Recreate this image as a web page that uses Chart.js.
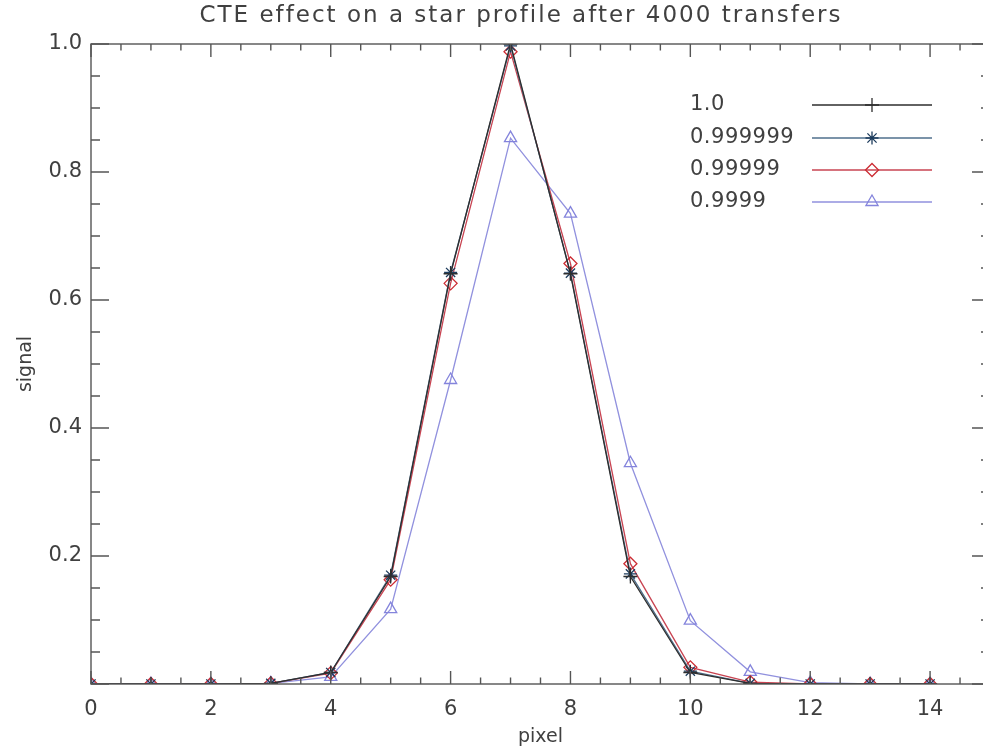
<!DOCTYPE html>
<html>
<head>
<meta charset="utf-8">
<script src="https://cdn.jsdelivr.net/npm/chart.js@4.4.1/dist/chart.umd.min.js"></script>
<style>
  html, body { margin: 0; padding: 0; background: #fff; overflow: hidden; }
  #wrap { width: 1003px; height: 748px; }
</style>
</head>
<body>
<div id="wrap"><canvas id="cteChart"></canvas></div>
<script>
// pixel positions across the star profile
const pixels = [0, 1, 2, 3, 4, 5, 6, 7, 8, 9, 10, 11, 12, 13, 14];

// signal after 4000 transfers, one array per CTE value
const cte1 = [0, 0, 0, 0.001, 0.018, 0.168, 0.641, 1.0, 0.641, 0.168, 0.018, 0.001, 0, 0, 0];
const cte999999 = [0, 0, 0, 0.001, 0.018, 0.170, 0.643, 0.997, 0.642, 0.172, 0.020, 0.001, 0, 0, 0];
const cte99999 = [0, 0, 0, 0.001, 0.017, 0.163, 0.626, 0.988, 0.657, 0.188, 0.026, 0.003, 0, 0, 0];
const cte9999 = [0, 0, 0, 0.001, 0.011, 0.117, 0.475, 0.853, 0.735, 0.345, 0.099, 0.019, 0.002, 0, 0];

const seriesLabels = ["1.0", "0.999999", "0.99999", "0.9999"];
const xTickLabels = ["0", "2", "4", "6", "8", "10", "12", "14"];
const yTickLabels = ["0.2", "0.4", "0.6", "0.8", "1.0"];

const FONT = "'DejaVu Sans', sans-serif";
const TEXT = "#404040";
const AXIS = "#555555";

function toPoints(values) {
    return pixels.map((p, i) => ({ x: p, y: values[i] }));
}

// IDL-style box with inward ticks on all four sides
const boxTicks = {
    id: "boxTicks",
    afterDatasetsDraw(chart) {
        const { ctx, chartArea: a, scales } = chart;
        const xs = scales.x, ys = scales.y;
        ctx.save();
        ctx.strokeStyle = AXIS;
        ctx.lineWidth = 1.4;
        ctx.strokeRect(a.left, a.top, a.right - a.left, a.bottom - a.top);
        ctx.beginPath();
        for (let i = 0; i <= 30; i++) {
            const v = i * 0.5;
            const len = i % 4 === 0 ? 13 : 6.5;
            const px = xs.getPixelForValue(v);
            ctx.moveTo(px, a.bottom); ctx.lineTo(px, a.bottom - len);
            ctx.moveTo(px, a.top); ctx.lineTo(px, a.top + len);
        }
        for (let i = 0; i <= 20; i++) {
            const v = i * 0.05;
            const len = i % 4 === 0 ? 18 : 9;
            const py = ys.getPixelForValue(v);
            ctx.moveTo(a.left, py); ctx.lineTo(a.left + len, py);
            ctx.moveTo(a.right, py); ctx.lineTo(a.right - len, py);
        }
        ctx.stroke();
        ctx.restore();
    },
    afterDraw(chart) {
        const { ctx } = chart;
        ctx.save();
        // title, spaced out a little like the original plot font
        ctx.fillStyle = TEXT;
        ctx.font = "23px " + FONT;
        ctx.letterSpacing = "2px";
        ctx.textAlign = "center";
        ctx.textBaseline = "middle";
        ctx.fillText("CTE effect on a star profile after 4000 transfers", 521, 16);
        ctx.letterSpacing = "0px";

        // legend inside the plot
        const rows = [105, 138, 170, 202];
        chart.data.datasets.forEach((ds, i) => {
            const y = rows[i];
            ctx.fillStyle = TEXT;
            ctx.font = "21px " + FONT;
            ctx.letterSpacing = "0.5px";
            ctx.textAlign = "left";
            ctx.fillText(ds.label, 690, y);
            ctx.letterSpacing = "0px";
            ctx.strokeStyle = ds.borderColor;
            ctx.lineWidth = ds.borderWidth;
            ctx.beginPath();
            ctx.moveTo(812, y); ctx.lineTo(932, y);
            ctx.stroke();
            ctx.strokeStyle = ds.pointBorderColor;
            ctx.fillStyle = "rgba(0,0,0,0)";
            ctx.lineWidth = ds.pointBorderWidth;
            Chart.helpers.drawPoint(ctx, {
                pointStyle: ds.pointStyle,
                radius: ds.pointRadius,
                rotation: 0,
                borderWidth: ds.pointBorderWidth
            }, 872, y);
        });
        ctx.restore();
    }
};

const ctx = document.getElementById("cteChart").getContext("2d");
new Chart(ctx, {
    type: "line",
    data: {
        datasets: [
            {
                label: seriesLabels[0],
                data: toPoints(cte1),
                borderColor: "#2e2e2e",
                pointBorderColor: "#2e2e2e",
                pointStyle: "cross",
                pointRadius: 7
            },
            {
                label: seriesLabels[1],
                data: toPoints(cte999999),
                borderColor: "#4f6f8c",
                pointBorderColor: "#1c3b5c",
                pointStyle: "star",
                pointRadius: 6.5
            },
            {
                label: seriesLabels[2],
                data: toPoints(cte99999),
                borderColor: "#c84452",
                pointBorderColor: "#cc2c33",
                pointStyle: "rectRot",
                pointRadius: 6.5
            },
            {
                label: seriesLabels[3],
                data: toPoints(cte9999),
                borderColor: "#9191de",
                pointBorderColor: "#8484dc",
                pointStyle: "triangle",
                pointRadius: 7
            }
        ].map((d) => Object.assign({
            borderWidth: 1.3,
            pointBorderWidth: 1.3,
            pointBackgroundColor: "rgba(0,0,0,0)",
            pointHoverRadius: 0,
            fill: false,
            tension: 0
        }, d))
    },
    options: {
        responsive: true,
        maintainAspectRatio: false,
        animation: false,
        layout: { padding: { top: 44, right: 10, bottom: 0, left: 0 } },
        plugins: {
            legend: { display: false },
            title: { display: false },
            tooltip: { enabled: false }
        },
        scales: {
            x: {
                type: "linear",
                min: 0,
                max: 15,
                grid: { display: false, drawTicks: false },
                border: { display: false },
                ticks: {
                    stepSize: 2,
                    autoSkip: false,
                    maxRotation: 0,
                    padding: 13,
                    color: TEXT,
                    font: { family: FONT, size: 21 },
                    callback: (v) => xTickLabels.includes(String(v)) ? String(v) : ""
                },
                title: {
                    display: true,
                    text: "pixel",
                    color: TEXT,
                    font: { family: FONT, size: 19 },
                    padding: { top: 0, bottom: 0 }
                },
                afterFit: (scale) => { scale.height = 64; }
            },
            y: {
                min: 0,
                max: 1,
                grid: { display: false, drawTicks: false },
                border: { display: false },
                ticks: {
                    stepSize: 0.2,
                    padding: 9,
                    color: TEXT,
                    font: { family: FONT, size: 21 },
                    callback: (v) => {
                        const s = v.toFixed(1);
                        return yTickLabels.includes(s) ? s : "";
                    }
                },
                title: {
                    display: true,
                    text: "signal",
                    color: TEXT,
                    font: { family: FONT, size: 19 },
                    padding: { top: 15, bottom: 0 }
                },
                afterFit: (scale) => { scale.width = 91; }
            }
        }
    },
    plugins: [boxTicks]
});
</script>
</body>
</html>
